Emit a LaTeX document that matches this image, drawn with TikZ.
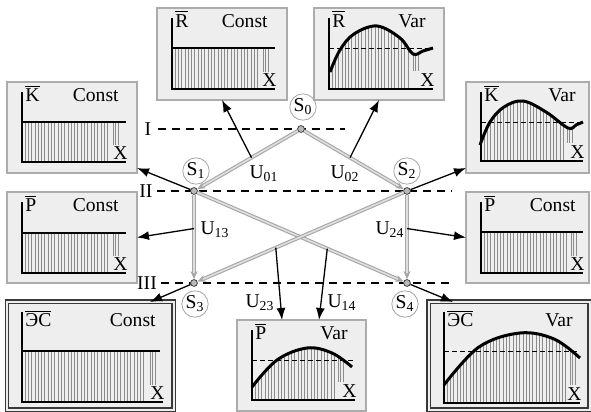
\documentclass[tikz,border=0pt]{standalone}
\usepackage{fontspec}
\setmainfont{Liberation Serif}
\usetikzlibrary{arrows.meta, calc, positioning}

% axes and captions of one chart box
\newcommand{\plotframe}[6]{%
  \begin{scope}[shift={(#1.north west)}]
    \draw[axisline] (15,10) -- (15,#5) -- (#6,#5);
    \node[lbl, anchor=base west] (#1-v) at (18,#4) {$\overline{\hbox{#2}}$};
    \node[lbl, anchor=base east] (#1-k) at (#6-7,#4) {#3};
    \node[lbl, anchor=south east] (#1-x) at (#6+2,#5-2) {X};
  \end{scope}}

% constant level with hatching
\newcommand{\constfill}[5]{%
  \begin{scope}[shift={(#1.north west)}]
    \foreach \h in {18,21.3,...,#4} \draw[hatch] (\h,#2) -- (\h,#3);
    \foreach \d in {3,5.5,8} \draw[hatch] (#4+\d,#2) -- (#4+\d,#3-17);
    \draw[tier] (15,#2) -- (#5,#2);
  \end{scope}}

% varying curve with hatching under it
\newcommand{\varfill}[6]{%
  \begin{scope}[shift={(#1.north west)}]
    \begin{scope}
      \clip plot[smooth, tension=0.6] coordinates {#2} |- (15,#4) -- cycle;
      \foreach \h in {18,21.3,...,#6} \draw[hatch] (\h,0) -- (\h,#4);
      \foreach \d in {3,5.5,8} \draw[hatch] (#6+\d,0) -- (#6+\d,#4-18);
    \end{scope}
    \draw[mean] (15,#3) -- (#5,#3);
    \draw[trend] plot[smooth, tension=0.6] coordinates {#2};
  \end{scope}}

\begin{document}
\begin{tikzpicture}[
  x=0.5pt, y=-0.5pt,
  font=\fontsize{9.8pt}{11pt}\selectfont,
  chart/.style={draw=gray!65, fill=gray!13, line width=0.6pt,
                anchor=north west, inner sep=0pt, outer sep=0pt},
  bigchart/.style={chart, draw=gray!45!black, line width=0.8pt,
                   double=gray!13, double distance=0.9pt},
  axisline/.style={line width=0.8pt},
  hatch/.style={gray!90, line width=0.35pt},
  tier/.style={line width=1.2pt},
  trend/.style={line width=1.5pt},
  mean/.style={dash pattern=on 2.5pt off 1.5pt, line width=0.4pt},
  lbl/.style={inner sep=0pt},
  dot/.style={circle, draw=gray!50!black, fill=gray!55, minimum size=3.4pt, inner sep=0pt},
  tag/.style={circle, draw=gray!70, minimum size=11.5pt, inner sep=0.3pt},
  link/.style={draw=gray!70, double=gray!25, double distance=0.8pt, line width=0.55pt,
               -{Stealth[length=4pt,width=3.5pt]}},
  arr/.style={-{Latex[length=6pt,width=4.5pt]}, line width=0.65pt},
  lvl/.style={dash pattern=on 4pt off 3pt, line width=0.6pt},
]
\useasboundingbox (0,0) rectangle (591,412);

% chart boxes
\node[chart, minimum width=65pt, minimum height=46pt] (rc) at (157,8) {};
\node[chart, minimum width=65pt, minimum height=46pt] (rv) at (314,8) {};
\node[chart, minimum width=65pt, minimum height=45.5pt] (kc) at (7,82) {};
\node[chart, minimum width=61.5pt, minimum height=45.5pt] (kv) at (466,82) {};
\node[chart, minimum width=65pt, minimum height=45.5pt] (pc) at (7,192) {};
\node[chart, minimum width=61.5pt, minimum height=45.5pt] (pr) at (466,192) {};
\node[bigchart, minimum width=83.5pt, minimum height=54pt] (ec) at (7,302) {};
\node[chart, minimum width=64.5pt, minimum height=45.5pt] (pv) at (237,320) {};
\node[bigchart, minimum width=80.5pt, minimum height=54pt] (ev) at (429,302) {};

% chart contents
\constfill{rc}{40}{81}{103}{118}
\plotframe{rc}{R}{Const}{19}{81}{118}
\varfill{rv}{(16,64) (26,42) (40,26) (63,18) (86,30) (99,46) (109,43) (119,40)}{40}{81}{119}{96}
\plotframe{rv}{R}{Var}{19}{81}{119}
\constfill{kc}{40}{80}{103}{119}
\plotframe{kc}{K}{Const}{20}{80}{119}
\varfill{kv}{(14,63) (24,40) (38,25) (57,19) (80,30) (102,46) (110,43) (117,40)}{40}{79}{117}{98}
\plotframe{kv}{K}{Var}{20}{79}{117}
\constfill{pc}{41}{81}{103}{119}
\plotframe{pc}{P}{Const}{20}{81}{119}
\constfill{pr}{40}{81}{102}{117}
\plotframe{pr}{P}{Const}{20}{81}{117}
\constfill{ec}{49}{100}{140}{153}
\plotframe{ec}{ЭС}{Const}{25}{100}{156}
\varfill{pv}{(15,67) (40,40) (70,28) (95,33) (115,47)}{40}{80}{118}{98}
\plotframe{pv}{P}{Var}{20}{80}{118}
\varfill{ev}{(15,83) (50,45) (91,31) (125,37) (151,56)}{49}{101}{151}{138}
\plotframe{ev}{ЭС}{Var}{25}{101}{151}

% levels
\node[lbl] (lv1) at (148,129) {I};
\node[lbl] (lv2) at (146,191) {II};
\node[lbl] (lv3) at (147,283) {III};
\coordinate (e1) at (345,129);
\coordinate (e2) at (452,191);
\coordinate (e3) at (452,283);
\draw[lvl] ([xshift=3pt]lv1.east) -- (e1);
\draw[lvl] ([xshift=2pt]lv2.east) -- (e2);
\draw[lvl] ([xshift=2pt]lv3.east) -- (e3);

% states
\node[dot] (s0) at (301,129) {};
\node[dot] (s1) at (194,191) {};
\node[dot] (s2) at (407,191) {};
\node[dot] (s3) at (194,283) {};
\node[dot] (s4) at (407,283) {};
\node[tag] (t0) at (303,107) {S\textsubscript{0}};
\node[tag] (t1) at (196,171) {S\textsubscript{1}};
\node[tag] (t2) at (407,171) {S\textsubscript{2}};
\node[tag] (t3) at (195,304) {S\textsubscript{3}};
\node[tag] (t4) at (405,304) {S\textsubscript{4}};

% transitions
\draw[link] (s0) -- (s1) coordinate[pos=0.46] (m01);
\draw[link] (s0) -- (s2) coordinate[pos=0.46] (m02);
\draw[link] (s1) -- (s3) coordinate[pos=0.4] (m13);
\draw[link] (s2) -- (s4) coordinate[pos=0.4] (m24);
\draw[link] (s1) -- (s4) coordinate[pos=0.63] (m14);
\draw[link] (s2) -- (s3) coordinate[pos=0.62] (m23);

\node[lbl] (u01) at (264,174) {U\textsubscript{01}};
\node[lbl] (u02) at (345,174) {U\textsubscript{02}};
\node[lbl] (u13) at (215,230) {U\textsubscript{13}};
\node[lbl] (u24) at (390,230) {U\textsubscript{24}};
\node[lbl] (u23) at (260,303) {U\textsubscript{23}};
\node[lbl] (u14) at (342,303) {U\textsubscript{14}};

% outputs to charts
\draw[arr] (m01) -- (rc.south);
\draw[arr] (m02) -- (rv.south);
\draw[arr] (s1) -- ($(kc.south east)+(0,-5)$);
\draw[arr] (m13) -- (pc.east);
\draw[arr] (s2) -- ($(kv.south west)+(0,-5)$);
\draw[arr] (m24) -- (pr.west);
\draw[arr] (s3) -- ($(ec.north east)+(-24,0)$);
\draw[arr] (s4) -- ($(ev.north west)+(24,0)$);
\draw[arr] (m23) -- ($(pv.north west)+(45,0)$);
\draw[arr] (m14) -- ($(pv.north west)+(82,0)$);

\end{tikzpicture}
\end{document}
